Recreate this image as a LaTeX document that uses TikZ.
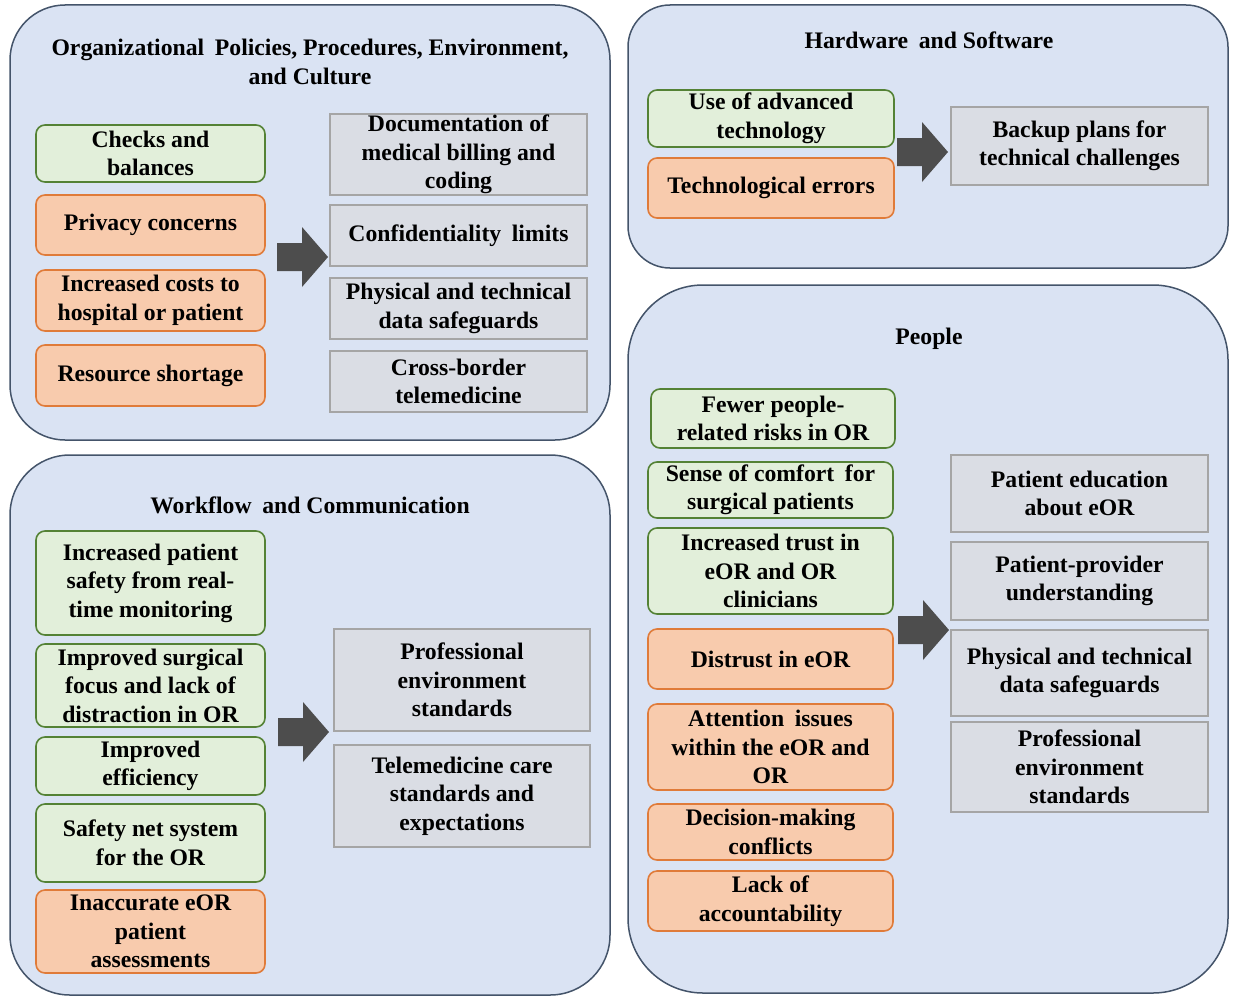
\documentclass[tikz,border=0pt]{standalone}
\usepackage{fontspec}
\setmainfont{Liberation Serif}
\usetikzlibrary{positioning}

\definecolor{panelfill}{HTML}{DAE3F3}
\definecolor{paneldraw}{HTML}{44546A}
\definecolor{goodfill}{HTML}{E2EFDA}
\definecolor{gooddraw}{HTML}{548235}
\definecolor{badfill}{HTML}{F8CBAD}
\definecolor{baddraw}{HTML}{E07B39}
\definecolor{resfill}{HTML}{DADDE4}
\definecolor{resdraw}{HTML}{A5A5A5}
\definecolor{arrowfill}{HTML}{4D4D4D}

\newcommand{\boxfont}{\fontsize{23.7}{28.5}\selectfont\bfseries}
\newcommand{\wsp}{\hspace{0.45em}}

\tikzset{
  panel/.style={draw=paneldraw, fill=panelfill, line width=1.5pt},
  paneltitle/.style={align=center, font=\boxfont, inner sep=0pt},
  itembox/.style={rounded corners=9pt, line width=1.6pt, align=center, inner sep=0pt, font=\boxfont},
  goodbox/.style={itembox, draw=gooddraw, fill=goodfill, minimum width=229pt},
  badbox/.style={itembox, draw=baddraw, fill=badfill, minimum width=229pt},
  resultbox/.style={draw=resdraw, fill=resfill, line width=1.6pt, align=center, inner sep=0pt, font=\boxfont, minimum width=257pt},
  blockarrow/.style={fill=arrowfill},
}

\begin{document}
\begin{tikzpicture}[x=1pt, y=-1pt]
    \useasboundingbox (0,0) rectangle (1233,998);

    % Panels
    \draw[panel, rounded corners=55pt] (10,5) rectangle (610,440);
    \draw[panel, rounded corners=42pt] (628,5) rectangle (1228,268);
    \draw[panel, rounded corners=60pt] (10,455) rectangle (610,995);
    \draw[panel, rounded corners=75pt] (628,285) rectangle (1228,993);

    % Organizational
    \node[paneltitle] (orgtitle) at (310,62) {Organizational\wsp Policies, Procedures, Environment,\\and Culture};
    \node[goodbox, minimum height=57pt] (checks) at (150.5,153.5) {Checks and\\balances};
    \node[badbox, minimum height=60pt] (privacy) at (150.5,225) {Privacy concerns};
    \node[badbox, minimum height=61pt] (costs) at (150.5,300.5) {Increased costs to\\hospital or patient};
    \node[badbox, minimum height=61pt] (shortage) at (150.5,375.5) {Resource shortage};
    \node[resultbox, minimum height=81pt] (billing) at (458.5,154.5) {Documentation of\\medical billing and\\coding};
    \node[resultbox, minimum height=61pt] (conflimits) at (458.5,235.5) {Confidentiality\wsp limits};
    \node[resultbox, minimum height=61pt] (safeguards) at (458.5,308.5) {Physical and technical\\data safeguards};
    \node[resultbox, minimum height=61pt] (crossborder) at (458.5,381.5) {Cross-border\\telemedicine};

    % Hardware and Software
    \node[paneltitle] (hwtitle) at (929,40) {Hardware\wsp and Software};
    \node[goodbox, minimum width=246pt, minimum height=57pt] (advtech) at (771,118.5) {Use of advanced\\technology};
    \node[badbox, minimum width=246pt, minimum height=60pt] (techerr) at (771,188) {Technological errors};
    \node[resultbox, minimum height=78pt] (backup) at (1079.5,146) {Backup plans for\\technical challenges};

    % Workflow and Communication
    \node[paneltitle] (wftitle) at (310,505) {Workflow\wsp and Communication};
    \node[goodbox, minimum height=104pt] (monitoring) at (150.5,583) {Increased patient\\safety from real-\\time monitoring};
    \node[goodbox, minimum height=83pt] (focus) at (150.5,685.5) {Improved surgical\\focus and lack of\\distraction in OR};
    \node[goodbox, minimum height=58pt] (efficiency) at (150.5,766) {Improved\\efficiency};
    \node[goodbox, minimum height=78pt] (safetynet) at (150.5,843) {Safety net system\\for the OR};
    \node[badbox, minimum height=83pt] (inaccurate) at (150.5,931.5) {Inaccurate eOR\\patient\\assessments};
    \node[resultbox, minimum width=256pt, minimum height=102pt] (profenv) at (462,680) {Professional\\environment\\standards};
    \node[resultbox, minimum width=256pt, minimum height=102pt] (telecare) at (462,796) {Telemedicine care\\standards and\\expectations};

    % People
    \node[paneltitle] (pplTitle) at (929,339) {People};
    \node[goodbox, minimum width=244pt, minimum height=59pt] (fewer) at (773,418.5) {Fewer people-\\related risks in OR};
    \node[goodbox, minimum width=245pt, minimum height=56pt] (comfort) at (770.5,490) {Sense of comfort\wsp for\\surgical patients};
    \node[goodbox, minimum width=245pt, minimum height=86pt] (trust) at (770.5,571) {Increased trust in\\eOR and OR\\clinicians};
    \node[badbox, minimum width=245pt, minimum height=60pt] (distrust) at (770.5,659) {Distrust in eOR};
    \node[badbox, minimum width=245pt, minimum height=86pt] (attention) at (770.5,747) {Attention\wsp issues\\within the eOR and\\OR};
    \node[badbox, minimum width=245pt, minimum height=56pt] (decision) at (770.5,832) {Decision-making\\conflicts};
    \node[badbox, minimum width=245pt, minimum height=60pt] (account) at (770.5,901) {Lack of\\accountability};
    \node[resultbox, minimum height=77pt] (education) at (1079.5,493.5) {Patient education\\about eOR};
    \node[resultbox, minimum height=78pt] (understand) at (1079.5,581) {Patient-provider\\understanding};
    \node[resultbox, minimum height=86pt] (safeguards2) at (1079.5,673) {Physical and technical\\data safeguards};
    \node[resultbox, minimum height=90pt] (profenv2) at (1079.5,767) {Professional\\environment\\standards};

    % Block arrows
    \foreach \ax/\ay in {277/257, 897/152, 278/732, 898/630}
        \fill[blockarrow] (\ax,\ay) ++(0,-14) -- ++(25,0) -- ++(0,-16) -- ++(26,30)
            -- ++(-26,30) -- ++(0,-16) -- ++(-25,0) -- cycle;
\end{tikzpicture}
\end{document}
